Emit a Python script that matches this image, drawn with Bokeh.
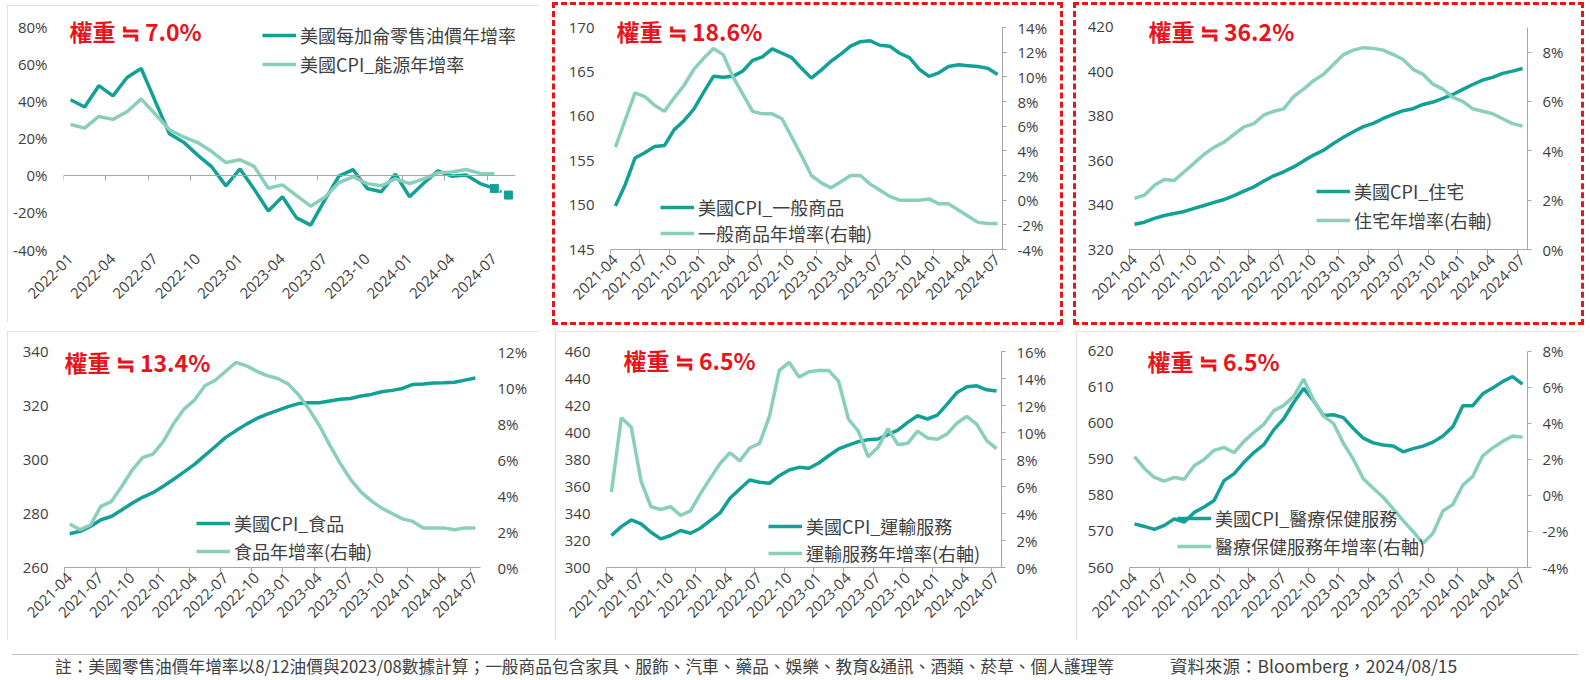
from math import pi

import pandas as pd
from bokeh.embed import file_html
from bokeh.layouts import column, row
from bokeh.models import (Div, FixedTicker, Label, Legend, LegendItem, LinearAxis,
                          PrintfTickFormatter, Range1d)
from bokeh.plotting import figure
from bokeh.resources import INLINE

DARK = "#12a097"
LIGHT = "#8acfbb"
RED = "#e8141c"
INK = "#404040"
AXIS = "#a6a6a6"
NUM_FONT = "Open Sans"
CJK_FONT = "Noto Sans CJK TC"

# ---------------- data ----------------
months_a = [str(m) for m in pd.period_range("2022-01", "2024-08", freq="M")]
months_b = [str(m) for m in pd.period_range("2021-04", "2024-07", freq="M")]
ticks_a = ["2022-01", "2022-04", "2022-07", "2022-10", "2023-01", "2023-04", "2023-07",
           "2023-10", "2024-01", "2024-04", "2024-07"]
ticks_b = ["2021-04", "2021-07", "2021-10", "2022-01", "2022-04", "2022-07", "2022-10",
           "2023-01", "2023-04", "2023-07", "2023-10", "2024-01", "2024-04", "2024-07"]

# panel 1: 2022-01 .. 2024-07 (%), plus the 2024-08 estimate
gasoline_yoy = [40.9, 37.0, 48.5, 43.0, 52.9, 57.8, 40.0, 22.5, 18.0, 11.0, 4.6, -5.6,
                3.5, -7.4, -19.2, -11.5, -22.9, -26.8, -13.2, -0.4, 3.2, -7.0, -8.8, 0.7,
                -11.5, -4.2, 2.5, -0.4, 0.2, -4.4, -7.0]
gasoline_est = ["2024-07", "2024-08"]
gasoline_est_val = [-7.0, -10.6]
energy_yoy = [27.5, 25.6, 31.9, 30.3, 34.4, 41.4, 33.1, 24.7, 20.8, 17.8, 12.9, 7.0,
              8.5, 4.9, -6.9, -5.1, -10.9, -16.6, -11.8, -3.9, -0.7, -4.4, -5.6, -1.8,
              -4.4, -1.8, 1.4, 1.9, 3.2, 1.1, 0.9]

# panels 2-6: 2021-04 .. 2024-07
goods_cpi = [149.9, 152.3, 155.3, 155.9, 156.6, 156.7, 158.5, 159.5, 160.8, 162.7,
             164.5, 164.4, 164.5, 165.1, 166.3, 166.7, 167.6, 167.1, 166.6, 165.4,
             164.3, 165.2, 166.2, 167.0, 167.9, 168.4, 168.5, 168.0, 167.9, 167.1,
             166.6, 165.3, 164.5, 164.9, 165.6, 165.8, 165.7, 165.6, 165.4, 164.7]
goods_yoy = [4.3, 6.5, 8.7, 8.4, 7.7, 7.2, 8.3, 9.3, 10.6, 11.5, 12.3, 11.8, 10.0, 8.6,
             7.2, 7.0, 7.0, 6.6, 5.1, 3.6, 2.0, 1.4, 1.0, 1.5, 2.0, 2.0, 1.3, 0.8, 0.3,
             0.0, 0.0, 0.0, 0.1, -0.3, -0.3, -0.8, -1.3, -1.8, -1.9, -1.9]

housing_cpi = [331.4, 332.3, 334.0, 335.3, 336.2, 337.1, 338.5, 339.8, 341.2, 342.5,
               344.3, 346.3, 348.2, 350.8, 353.2, 355.0, 357.2, 359.9, 362.5, 364.7,
               367.7, 370.5, 373.0, 375.3, 376.8, 379.0, 380.8, 382.5, 383.4, 385.3,
               386.4, 388.0, 389.8, 392.1, 394.3, 396.3, 397.5, 399.3, 400.3, 401.5]
housing_yoy = [2.07, 2.2, 2.6, 2.84, 2.8, 3.15, 3.5, 3.86, 4.14, 4.35, 4.66, 4.97, 5.1,
               5.45, 5.6, 5.7, 6.2, 6.5, 6.84, 7.1, 7.5, 7.9, 8.08, 8.18, 8.15, 8.08,
               7.9, 7.7, 7.3, 7.1, 6.7, 6.5, 6.16, 6.0, 5.7, 5.6, 5.5, 5.3, 5.1, 5.0]

food_cpi = [272.5, 273.4, 275.2, 277.7, 278.9, 281.3, 283.8, 286.0, 287.7, 290.1, 292.7,
            295.4, 298.2, 301.5, 304.8, 308.2, 310.7, 313.1, 315.2, 316.8, 318.2, 319.6,
            320.7, 321.0, 321.0, 321.7, 322.3, 322.6, 323.5, 324.1, 325.1, 325.6, 326.3,
            327.8, 328.0, 328.3, 328.4, 328.6, 329.4, 330.2]
food_yoy = [2.42, 2.1, 2.36, 3.4, 3.66, 4.5, 5.4, 6.1, 6.3, 7.0, 8.0, 8.8, 9.3, 10.1,
            10.4, 10.9, 11.4, 11.2, 10.9, 10.66, 10.5, 10.2, 9.6, 8.8, 7.9, 6.8, 5.8, 4.9,
            4.2, 3.7, 3.3, 3.0, 2.7, 2.56, 2.2, 2.2, 2.2, 2.1, 2.2, 2.2]

transport_cpi = [323.7, 330.3, 335.2, 332.3, 326.1, 321.2, 323.7, 327.4, 325.4, 329.1,
                 334.8, 340.4, 351.3, 358.2, 364.8, 363.1, 362.4, 368.0, 372.2, 374.2,
                 373.5, 377.4, 382.8, 387.8, 390.7, 393.2, 394.7, 395.2, 398.4, 401.8,
                 407.5, 412.4, 410.0, 412.9, 421.0, 429.7, 433.9, 434.6, 431.6, 430.7]
transport_yoy = [5.6, 11.1, 10.4, 6.4, 4.5, 4.3, 4.5, 3.85, 4.2, 5.45, 6.6, 7.7, 8.5, 7.9,
                 8.85, 9.2, 11.2, 14.6, 15.2, 14.1, 14.5, 14.6, 14.6, 13.8, 11.0, 10.1,
                 8.2, 8.9, 10.3, 9.1, 9.2, 10.1, 9.6, 9.5, 9.9, 10.7, 11.2, 10.6, 9.4, 8.8]

medical_cpi = [572.1, 571.4, 570.6, 571.7, 573.5, 572.6, 575.3, 576.8, 578.6, 584.1,
               586.0, 589.2, 591.9, 594.1, 598.2, 601.3, 605.8, 609.7, 606.3, 602.2,
               602.4, 601.6, 598.6, 595.9, 594.6, 594.0, 593.7, 592.1, 593.0, 593.7,
               594.8, 596.5, 599.1, 604.9, 604.9, 608.2, 609.8, 611.6, 613.0, 610.9]
medical_yoy = [2.15, 1.5, 1.0, 0.8, 1.0, 0.9, 1.65, 2.0, 2.5, 2.67, 2.37, 3.0, 3.5, 3.95,
               4.7, 5.0, 5.5, 6.46, 5.3, 4.4, 4.0, 2.9, 2.0, 0.93, 0.4, -0.1, -0.74, -1.4,
               -2.0, -2.66, -2.1, -0.86, -0.5, 0.57, 1.06, 2.2, 2.64, 3.0, 3.3, 3.23]

note_text = ("註：美國零售油價年增率以8/12油價與2023/08數據計算；一般商品包含家具、服飾、汽車、"
             "藥品、娛樂、教育&通訊、酒類、菸草、個人護理等")
source_text = "資料來源：Bloomberg，2024/08/15"

GREY_BOX = {"outline": "1px solid #d9d9d9", "outline-offset": "-1px"}
RED_BOX = {"outline": "3px dashed #e8141c", "outline-offset": "0px"}
PAD = 12          # px of empty frame kept above the top tick (room for title/legend)
BOTTOM = 73       # px below the frame for the rotated month labels


def make_fig(w, h, left, right, top, n, y_lo, y_hi, box):
    # frame top sits PAD px above the top tick, so stretch the range by that share
    frac = PAD / (h - top - BOTTOM)
    p = figure(width=w, height=h, x_range=Range1d(-0.5, n - 0.5),
               y_range=Range1d(y_lo, y_hi + (y_hi - y_lo) * frac),
               x_axis_location=None, y_axis_location=None, toolbar_location=None,
               output_backend="svg", min_border_left=left, min_border_right=right,
               min_border_top=top - PAD, min_border_bottom=BOTTOM, styles=box)
    p.grid.visible = False
    p.outline_line_color = None
    return p, frac


def num_style(ax):
    ax.major_label_text_font = NUM_FONT
    ax.major_label_text_font_size = "15px"
    ax.major_label_text_color = INK
    ax.minor_tick_line_color = None


def left_axis(p, ticks, fmt):
    ax = LinearAxis(ticker=FixedTicker(ticks=ticks), formatter=PrintfTickFormatter(format=fmt))
    num_style(ax)
    ax.axis_line_color = None
    ax.major_tick_line_color = None
    ax.major_tick_out = 0
    ax.major_label_standoff = 16
    p.add_layout(ax, "left")


def right_axis(p, lo, hi, step, frac, with_line=True):
    p.extra_y_ranges = {"r": Range1d(lo, hi + (hi - lo) * frac)}
    ax = LinearAxis(y_range_name="r", ticker=FixedTicker(ticks=list(range(lo, hi + 1, step))),
                    formatter=PrintfTickFormatter(format="%d%%"), bounds=(lo, hi))
    num_style(ax)
    if with_line:
        ax.axis_line_color = AXIS
        ax.major_tick_line_color = AXIS
        ax.major_tick_out = 4
        ax.major_tick_in = 0
        ax.major_label_standoff = 11
    else:
        ax.axis_line_color = None
        ax.major_tick_line_color = None
        ax.major_tick_out = 0
        ax.major_label_standoff = 17
    p.add_layout(ax, "right")


def bottom_axis(p, months, labels, with_line=True):
    pos = [months.index(t) for t in labels]
    bounds = [x - 0.5 for x in pos]
    ax = LinearAxis(ticker=FixedTicker(ticks=pos, minor_ticks=bounds),
                    major_label_overrides={x: t for x, t in zip(pos, labels)},
                    major_label_orientation=pi / 4)
    num_style(ax)
    ax.major_tick_line_color = None
    ax.major_tick_out = 0
    ax.major_label_standoff = 3
    if with_line:
        ax.axis_line_color = AXIS
        ax.minor_tick_line_color = AXIS
        ax.minor_tick_out = 5
        ax.minor_tick_in = 0
    else:
        ax.axis_line_color = None
    p.add_layout(ax, "below")
    return bounds


def add_title(p, text, x, y):
    p.add_layout(Label(x=x, y=y, x_units="screen", y_units="screen", text=text,
                       text_color=RED, text_font=CJK_FONT, text_font_size="23px",
                       text_font_style="bold", text_baseline="middle", text_align="left"))


def add_legend(p, items, loc, spacing):
    lg = Legend(items=[LegendItem(label=t, renderers=[r]) for t, r in items],
                location=loc, orientation="vertical", padding=0, margin=0, spacing=spacing,
                glyph_width=34, glyph_height=20, label_height=20, label_standoff=4,
                label_text_font=CJK_FONT, label_text_font_size="18px",
                label_text_color=INK, background_fill_alpha=0, border_line_color=None)
    p.add_layout(lg, "center")


def cpi_panel(w, h, left, right, top, box, title, title_xy, cpi, yoy, names, left_rng,
              left_step, right_rng, right_step, legend_loc, legend_spacing, right_line=True):
    p, frac = make_fig(w, h, left, right, top, len(months_b), left_rng[0], left_rng[1], box)
    left_axis(p, list(range(left_rng[0], left_rng[1] + 1, left_step)), "%d")
    right_axis(p, right_rng[0], right_rng[1], right_step, frac, right_line)
    bottom_axis(p, months_b, ticks_b)
    x = list(range(len(months_b)))
    r1 = p.line(x, cpi, line_color=DARK, line_width=3.5)
    r2 = p.line(x, yoy, line_color=LIGHT, line_width=3.5, y_range_name="r")
    add_title(p, title, *title_xy)
    add_legend(p, [(names[0], r1), (names[1], r2)], legend_loc, legend_spacing)
    return p


# ---------------- panel 1 ----------------
p1, _ = make_fig(532, 317, 56, 24, 20, len(months_a), -40, 80, GREY_BOX)
left_axis(p1, list(range(-40, 81, 20)), "%d%%")
bounds_a = bottom_axis(p1, months_a, ticks_a, with_line=False)
zero_ax = LinearAxis(fixed_location=0, ticker=FixedTicker(ticks=[], minor_ticks=bounds_a))
zero_ax.axis_line_color = AXIS
zero_ax.major_tick_line_color = None
zero_ax.major_tick_out = 0
zero_ax.major_label_standoff = 0
zero_ax.minor_tick_line_color = AXIS
zero_ax.minor_tick_out = 5
zero_ax.minor_tick_in = 0
p1.add_layout(zero_ax, "below")

xa = list(range(len(gasoline_yoy)))
g1 = p1.line(xa, gasoline_yoy, line_color=DARK, line_width=3.5)
xe = [months_a.index(m) for m in gasoline_est]
p1.line(xe, gasoline_est_val, line_color=DARK, line_width=3, line_dash="2 4")
p1.scatter(xe, gasoline_est_val, marker="square", size=8, fill_color=DARK, line_color=DARK)
g2 = p1.line(list(range(len(energy_yoy))), energy_yoy, line_color=LIGHT, line_width=3.5)
add_title(p1, "權重 ≒ 7.0%", 6, 219)
add_legend(p1, [("美國每加侖零售油價年增率", g1), ("美國CPI_能源年增率", g2)], (199, 172), 3)

# ---------------- panels 2-6 ----------------
p2 = cpi_panel(505, 317, 55, 58, 22, RED_BOX, "權重 ≒ 18.6%", (6, 219),
               goods_cpi, goods_yoy, ("美國CPI_一般商品", "一般商品年增率(右軸)"),
               (145, 170), 5, (-4, 14), 2, (50, 3), 0)
p3 = cpi_panel(505, 317, 53, 54, 20, RED_BOX, "權重 ≒ 36.2%", (19, 219),
               housing_cpi, housing_yoy, ("美國CPI_住宅", "住宅年增率(右軸)"),
               (320, 420), 20, (0, 9), 2, (187, 16), 3)
p4 = cpi_panel(532, 309, 57, 59, 20, GREY_BOX, "權重 ≒ 13.4%", (0, 206),
               food_cpi, food_yoy, ("美國CPI_食品", "食品年增率(右軸)"),
               (260, 340), 20, (0, 12), 2, (132, 3), 2, right_line=False)
p5 = cpi_panel(505, 309, 51, 59, 20, GREY_BOX, "權重 ≒ 6.5%", (17, 208),
               transport_cpi, transport_yoy, ("美國CPI_運輸服務", "運輸服務年增率(右軸)"),
               (300, 460), 20, (0, 16), 2, (162, 1), 1)
p6 = cpi_panel(505, 309, 53, 54, 17, GREY_BOX, "權重 ≒ 6.5%", (18, 207),
               medical_cpi, medical_yoy, ("美國CPI_醫療保健服務", "醫療保健服務年增率(右軸)"),
               (560, 620), 10, (-4, 8), 2, (48, 8), 2)

footer = Div(
    text=('<div style="border-top:1px solid #bfbfbf;width:1566px;padding-top:0px;'
          'padding-left:43px;box-sizing:border-box;white-space:nowrap;'
          "font-family:'Noto Sans CJK TC';font-size:16.7px;line-height:22px;color:#404040\">"
          f'<span style="display:inline-block;width:1115px">{note_text}</span>'
          f'<span style="font-size:17.5px">{source_text}</span></div>'),
    width=1574, height=26)

layout = column(row(p1, p2, p3, spacing=16), row(p4, p5, p6, spacing=16), footer,
                spacing=9, margin=(5, 0, 0, 7))

open("out.html", "w").write(file_html(layout, INLINE))
